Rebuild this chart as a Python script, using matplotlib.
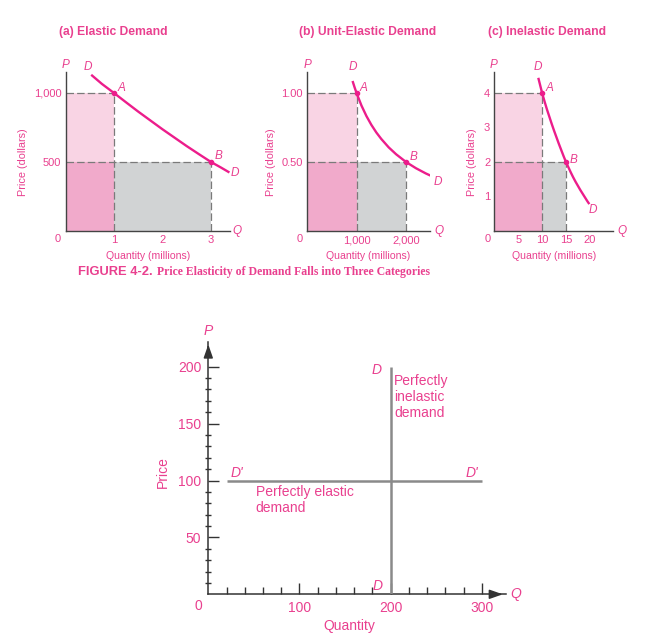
import matplotlib
matplotlib.use("Agg")
import matplotlib.pyplot as plt

plt.rcParams['font.family'] = ['Liberation Sans', 'DejaVu Sans']

# ---------------- data ----------------
# (a) Elastic demand
a_q = [0.53, 0.75, 1.0, 1.25, 1.5, 1.75, 2.0, 2.25, 2.5, 2.75, 3.0, 3.2, 3.38]
a_p = [1132, 1066, 1000, 932, 865, 801, 737, 676, 615, 557, 500, 461, 424]
a_pts_q = [1, 3]
a_pts_p = [1000, 500]
a_xticks = [1, 2, 3]
a_yticks = [500, 1000]
a_ylabels = ["500", "1,000"]

# (b) Unit-elastic demand
b_q = [920, 960, 1000, 1100, 1200, 1300, 1400, 1500, 1650, 1800, 2000, 2200, 2400, 2540]
b_p = [1.087, 1.042, 1.0, 0.909, 0.833, 0.769, 0.714, 0.667, 0.606, 0.556, 0.5, 0.455, 0.417, 0.394]
b_pts_q = [1000, 2000]
b_pts_p = [1.00, 0.50]
b_xticks = [1000, 2000]
b_xlabels = ["1,000", "2,000"]
b_yticks = [0.5, 1.0]
b_ylabels = ["0.50", "1.00"]

# (c) Inelastic demand
c_q = [9.2, 9.6, 10, 10.5, 11, 11.5, 12, 12.5, 13, 13.5, 14, 14.5, 15, 15.5, 16, 16.5,
       17, 17.5, 18, 18.5, 19, 19.5, 19.9]
c_p = [4.44, 4.22, 4.0, 3.76, 3.53, 3.32, 3.11, 2.91, 2.72, 2.53, 2.35, 2.17, 2.0, 1.85,
       1.7, 1.56, 1.43, 1.31, 1.19, 1.08, 0.97, 0.86, 0.78]
c_pts_q = [10, 15]
c_pts_p = [4, 2]
c_xticks = [5, 10, 15, 20]
c_yticks = [1, 2, 3, 4]

# bottom: perfectly elastic / inelastic
inel_q = [200, 200]
inel_p = [0, 200]
el_q = [21, 300]
el_p = [100, 100]
bot_xticks = [100, 200, 300]
bot_yticks = [50, 100, 150, 200]

# ---------------- style ----------------
PINK_T = '#e9408f'
PINK_C = '#ec1d8b'
LIGHT = '#f9d4e4'
MED = '#f1aacb'
GRAY = '#d1d3d4'
DASH = '#7a7a7a'
AX = '#444444'

W, H = 655, 638
fig = plt.figure(figsize=(W / 100, H / 100), dpi=100)


def add_ax(left, top, right, bottom):
    return fig.add_axes([left / W, 1 - bottom / H, (right - left) / W, (bottom - top) / H])


def ftxt(x, y, s, **kw):
    kw.setdefault('color', PINK_T)
    return fig.text(x / W, 1 - y / H, s, **kw)


def panel(ax, q, p, pq, pp, xlim, ylim, xt, xl, yt, yl, minx, miny):
    ax.set_xlim(*xlim)
    ax.set_ylim(*ylim)
    for s in ['top', 'right']:
        ax.spines[s].set_visible(False)
    for s in ['left', 'bottom']:
        ax.spines[s].set_color(AX)
        ax.spines[s].set_linewidth(1.0)
    q1, q2 = pq
    p1, p2 = pp
    ax.fill_between([0, q1], p2, p1, color=LIGHT, lw=0, zorder=1)
    ax.fill_between([0, q1], 0, p2, color=MED, lw=0, zorder=1)
    ax.fill_between([q1, q2], 0, p2, color=GRAY, lw=0, zorder=1)
    ls = (0, (6, 2.5))
    kw = dict(color=DASH, lw=0.9, ls=ls, zorder=2)
    ax.plot([0, q1], [p1, p1], **kw)
    ax.plot([0, q2], [p2, p2], **kw)
    ax.plot([q1, q1], [0, p1], **kw)
    ax.plot([q2, q2], [0, p2], **kw)
    ax.plot(q, p, color=PINK_C, lw=1.7, zorder=3, solid_capstyle='butt', solid_joinstyle='round')
    ax.plot(pq, pp, 'o', color=PINK_C, ms=3, zorder=4)
    ax.set_xticks(xt, xl)
    ax.set_yticks(yt, yl)
    ax.set_xticks(minx, minor=True)
    ax.set_yticks(miny, minor=True)
    ax.tick_params(which='major', length=0, labelsize=8, labelcolor=PINK_T, pad=3)
    ax.tick_params(which='minor', direction='in', length=5, width=1, color=AX)


# (a)
axa = add_ax(65.5, 72.3, 230.4, 231)
panel(axa, a_q, a_p, a_pts_q, a_pts_p, (0, 3.4), (0, 1150),
      a_xticks, [str(v) for v in a_xticks], a_yticks, a_ylabels, [2], [])
# (b)
axb = add_ax(307, 72.3, 429.8, 231)
panel(axb, b_q, b_p, b_pts_q, b_pts_p, (0, 2480), (0, 1.15),
      b_xticks, b_xlabels, b_yticks, b_ylabels, [], [])
# (c)
axc = add_ax(494.4, 72.3, 613.2, 231)
panel(axc, c_q, c_p, c_pts_q, c_pts_p, (0, 24.9), (0, 4.6),
      c_xticks, [str(v) for v in c_xticks], c_yticks, [str(v) for v in c_yticks], [5, 20], [1, 3])

# panel texts
it = dict(style='italic', fontsize=8.5, ha='center', va='center')
for (px, dx, ax_, bx, dlx, dly, qx, zx, xlx, ylx, tx, title, Ay, By) in [
    (66, 88, 121.7, 219, 235, 173, 237, 58, 148, 22.7, 113.5, '(a) Elastic Demand', 88, 156),
    (307.7, 352.7, 363.3, 413.3, 438.3, 182, 439, 300, 368, 270.7, 367.7, '(b) Unit-Elastic Demand', 88, 157),
    (493.3, 537.7, 550, 573.3, 592.7, 210, 622.3, 487.3, 553.8, 472.3, 546.7, '(c) Inelastic Demand', 88, 160),
]:
    ftxt(px, 65, 'P', **it)
    ftxt(dx, 67, 'D', **it)
    ftxt(ax_, Ay, 'A', **it)
    ftxt(bx, By, 'B', **it)
    ftxt(dlx, dly, 'D', **it)
    ftxt(qx, 231, 'Q', **it)
    ftxt(zx, 239, '0', fontsize=8, ha='center', va='center')
    ftxt(xlx, 256, 'Quantity (millions)', fontsize=7.6, ha='center', va='center')
    ftxt(ylx, 162, 'Price (dollars)', fontsize=7.8, ha='center', va='center', rotation=90)
    ftxt(tx, 32, title, fontsize=8.7, fontweight='bold', ha='center', va='center')

# caption
ftxt(78, 272, 'FIGURE 4-2.', fontsize=9.3, fontweight='bold', ha='left', va='center',
     family=['Liberation Sans'])
ftxt(157, 272, 'Price Elasticity of Demand Falls into Three Categories', fontsize=8.5,
     fontweight='bold', ha='left', va='center', family=['Liberation Serif'])

# ---------------- bottom chart ----------------
axd = add_ax(208.3, 341.7, 505.6, 594.3)
axd.set_xlim(0, 326)
axd.set_ylim(0, 222)
for s in ['top', 'right']:
    axd.spines[s].set_visible(False)
for s in ['left', 'bottom']:
    axd.spines[s].set_color('#333333')
    axd.spines[s].set_linewidth(1.1)
axd.annotate('', xy=(1.0, 0), xytext=(0.96, 0), xycoords='axes fraction',
             arrowprops=dict(arrowstyle='-|>,head_length=0.8,head_width=0.28', color='#333333', lw=1.1),
             annotation_clip=False)
axd.annotate('', xy=(0, 1.0), xytext=(0, 0.96), xycoords='axes fraction',
             arrowprops=dict(arrowstyle='-|>,head_length=0.8,head_width=0.28', color='#333333', lw=1.1),
             annotation_clip=False)
axd.plot(inel_q, inel_p, color='#8a8a8a', lw=1.8, solid_capstyle='butt', zorder=3)
axd.plot(el_q, el_p, color='#8a8a8a', lw=1.8, solid_capstyle='butt', zorder=3)
axd.set_xticks(bot_xticks, [str(v) for v in bot_xticks])
axd.set_yticks(bot_yticks, [str(v) for v in bot_yticks])
axd.set_xticks([v for v in range(20, 300, 20) if v not in (100, 200)], minor=True)
axd.set_yticks([v for v in range(10, 200, 10) if v % 50 != 0], minor=True)
axd.tick_params(which='major', direction='in', length=8, width=1, color='#333333',
                labelsize=10, labelcolor=PINK_T, pad=5)
axd.tick_params(axis='x', which='minor', direction='in', length=5, width=1, color='#333333')
axd.tick_params(axis='y', which='minor', direction='inout', length=5, width=1, color='#333333')

it2 = dict(style='italic', fontsize=10, color=PINK_T)
axd.text(190, 197, 'D', ha='right', va='center', **it2)
axd.text(191, 7, 'D', ha='right', va='center', **it2)
axd.text(24, 107, "D'", ha='left', va='center', **it2)
axd.text(296, 107, "D'", ha='right', va='center', **it2)
axd.text(204, 194, 'Perfectly\ninelastic\ndemand', ha='left', va='top', fontsize=10,
         color=PINK_T, linespacing=1.2)
axd.text(52, 96, 'Perfectly elastic\ndemand', ha='left', va='top', fontsize=10,
         color=PINK_T, linespacing=1.2)

ftxt(198, 606, '0', fontsize=10, ha='center', va='center')
ftxt(208.3, 331, 'P', style='italic', fontsize=10, ha='center', va='center')
ftxt(516, 594.3, 'Q', style='italic', fontsize=10, ha='center', va='center')
ftxt(349, 626, 'Quantity', fontsize=10, ha='center', va='center')
ftxt(163, 472, 'Price', fontsize=10, ha='center', va='center', rotation=90)

fig.savefig('out.png', dpi=100, facecolor='white')
